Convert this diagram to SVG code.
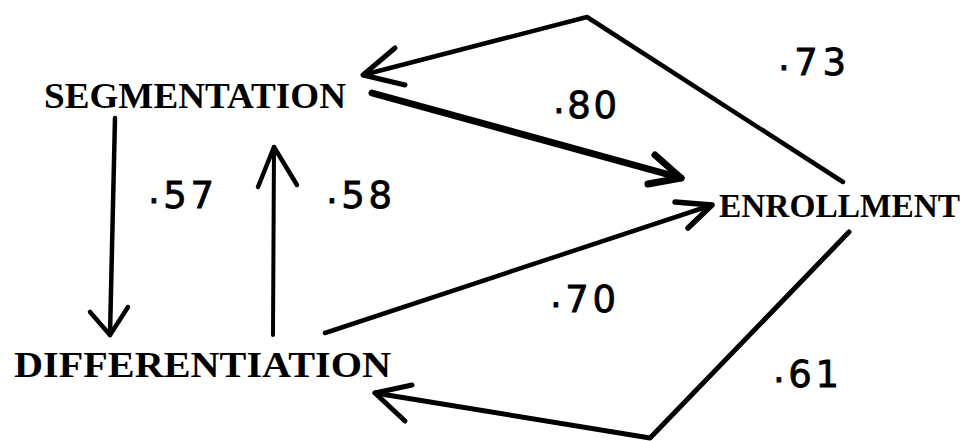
<svg xmlns="http://www.w3.org/2000/svg" width="973" height="441" viewBox="0 0 973 441">
<style>
.node{font-family:"Liberation Serif","Times New Roman",serif;font-weight:bold;font-size:36px;fill:#000}
.lbl{font-family:"DejaVu Sans","Liberation Sans",sans-serif;font-size:37px;fill:#000;stroke:#000;stroke-width:0.8}
.c{fill:none;stroke:#000;stroke-linecap:round;stroke-linejoin:round}
</style>
<rect width="973" height="441" fill="#fff"/>
<g id="connectors">
  <g id="enr-seg">
    <polyline class="c" stroke-width="4.5" points="843,182 587,17 363,75"/>
    <polyline class="c" stroke-width="5" points="395,48 363,75 405,85"/>
  </g>
  <g id="seg-enr">
    <line class="c" stroke-width="7" x1="372" y1="93" x2="681" y2="178"/>
    <polyline class="c" stroke-width="7" points="655,155 681,178 648,184"/>
  </g>
  <g id="diff-enr">
    <line class="c" stroke-width="4.5" x1="325" y1="333" x2="712" y2="205"/>
    <polyline class="c" stroke-width="5.5" points="675,202 712,205 688,228"/>
  </g>
  <g id="enr-diff">
    <polyline class="c" stroke-width="5" points="849,232 650,438 375,393"/>
    <polyline class="c" stroke-width="5" points="412,385 375,393 405,421"/>
  </g>
  <g id="seg-diff">
    <line class="c" stroke-width="4.5" x1="115" y1="118" x2="110" y2="335"/>
    <polyline class="c" stroke-width="4.5" points="90,312 110,335 128,307"/>
  </g>
  <g id="diff-seg">
    <line class="c" stroke-width="4" x1="273" y1="335" x2="274" y2="147"/>
    <polyline class="c" stroke-width="4.5" points="258,187 274,147 297,185"/>
  </g>
</g>
<g id="labels">
  <text class="lbl" x="778" y="75" textLength="68"><tspan dy="-5">.</tspan><tspan dy="5">73</tspan></text>
  <text class="lbl" x="553" y="118" textLength="64"><tspan dy="-5">.</tspan><tspan dy="5">80</tspan></text>
  <text class="lbl" x="148" y="208" textLength="66"><tspan dy="-5">.</tspan><tspan dy="5">57</tspan></text>
  <text class="lbl" x="326" y="208" textLength="66"><tspan dy="-5">.</tspan><tspan dy="5">58</tspan></text>
  <text class="lbl" x="550" y="312" textLength="66"><tspan dy="-5">.</tspan><tspan dy="5">70</tspan></text>
  <text class="lbl" x="773" y="387" textLength="66"><tspan dy="-5">.</tspan><tspan dy="5">61</tspan></text>
</g>
<g id="segmentation"><text class="node" x="44" y="108" textLength="302" lengthAdjust="spacingAndGlyphs">SEGMENTATION</text></g>
<g id="differentiation"><text class="node" x="14" y="377" textLength="377" lengthAdjust="spacingAndGlyphs">DIFFERENTIATION</text></g>
<g id="enrollment"><text class="node" x="719" y="217" style="font-size:34px" textLength="241" lengthAdjust="spacingAndGlyphs">ENROLLMENT</text></g>
</svg>
